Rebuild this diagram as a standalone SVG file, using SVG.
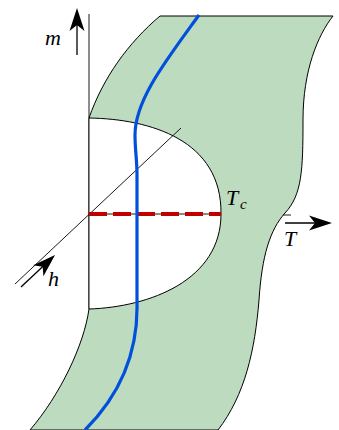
<svg xmlns="http://www.w3.org/2000/svg" width="339" height="430" viewBox="0 0 339 430">
<style>
.outline{stroke:#000;stroke-width:1;fill:none;stroke-linejoin:round}
.thin{stroke:#000;stroke-width:0.9;fill:none}
.arr{stroke:#000;stroke-width:1.3;fill:none}
.lbl{font-family:"Liberation Serif","DejaVu Serif",serif;font-style:italic;font-size:22px;fill:#000}
.sub{font-family:"Liberation Serif","DejaVu Serif",serif;font-style:italic;font-size:15px;fill:#000}
</style>
<defs>
<marker id="stealth" viewBox="-26 -9 28 18" markerWidth="28" markerHeight="18" refX="-12" refY="0" orient="auto" markerUnits="userSpaceOnUse">
<path d="M0,0 L-23,-7.5 L-17,0 L-23,7.5 Z" fill="#000"/>
</marker>
</defs>
<g id="region">
<path d="M89,118 C103,78 128,43 160,16 L333,16 C318,35 303,70 303,120 C303,170 302,195 285,213 C270,230 262,255 259,300 C255,350 245,395 218,430 L30,430 C60,395 84,345 89,309 Z" fill="#bddbbf" stroke="#000" stroke-width="1"/>
<path d="M89,118 C150,119 222,140 221,214 C221,280 150,307 89,309 Z" fill="#fff" stroke="none"/>
<path d="M89,118 C150,119 222,140 221,214 C221,280 150,307 89,309" class="outline"/>
</g>
<g id="axes">
<line x1="89" y1="14" x2="89" y2="309" class="thin"/>
<line x1="15" y1="284" x2="181" y2="128" class="thin"/>
<line x1="89" y1="214" x2="221" y2="214" class="thin"/>
<line x1="283" y1="215" x2="291" y2="215" class="thin"/>
</g>
<g id="curves">
<path d="M89,214 L221,214" stroke="#c00000" stroke-width="4" stroke-dasharray="18 6" fill="none"/>
<path d="M199,15 C165,62 135,100 135,135 C135,150 137,160 137,175 L137,303 C138,345 125,390 85,430" stroke="#0050dc" stroke-width="3.2" fill="none"/>
</g>
<g id="connectors">
<line x1="77" y1="55" x2="77" y2="20" class="arr" marker-end="url(#stealth)"/>
<line x1="285" y1="223" x2="320" y2="223" class="arr" marker-end="url(#stealth)"/>
<line x1="21" y1="287" x2="46.3" y2="263.2" class="arr" marker-end="url(#stealth)"/>
</g>
<g id="labels">
<text x="45" y="45" class="lbl">m</text>
<text x="226" y="205" class="lbl">T</text>
<text x="240" y="209" class="sub">c</text>
<text x="284" y="246" class="lbl">T</text>
<text x="48" y="286" class="lbl">h</text>
</g>
</svg>
